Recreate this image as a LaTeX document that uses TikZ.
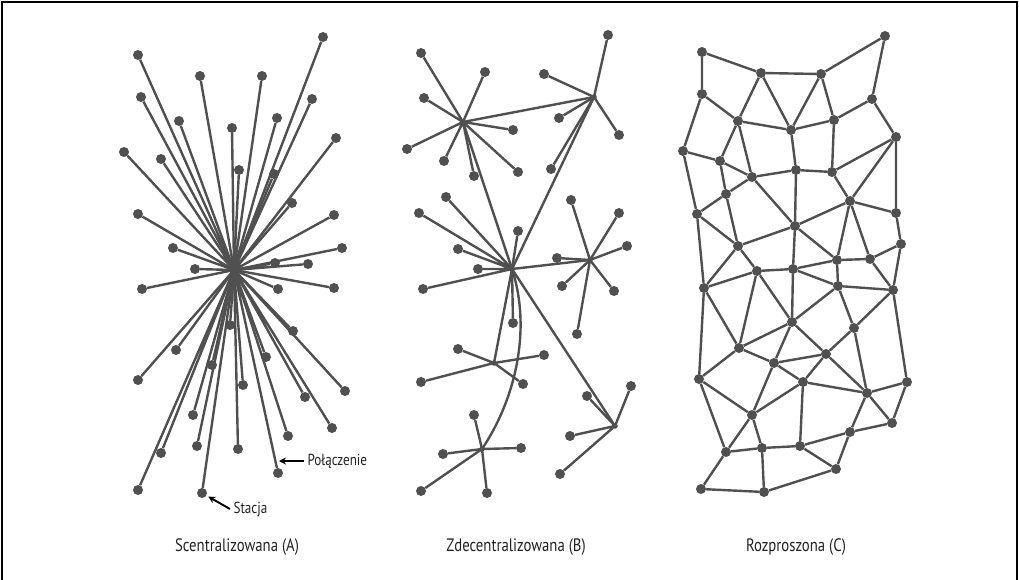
\documentclass[tikz,border=0pt]{standalone}
\usepackage{fontspec}
\setmainfont{PT Sans}[FakeStretch=0.82]
\usetikzlibrary{arrows.meta}
\definecolor{netgray}{RGB}{80,80,80}
\definecolor{labelgray}{RGB}{35,35,35}
\tikzset{
  station/.style={circle,fill=netgray,inner sep=0pt,minimum size=10pt},
  hubdot/.style={circle,fill=netgray,inner sep=0pt,minimum size=5.5pt},
  link/.style={draw=netgray,line width=2.4pt},
  caption/.style={text=labelgray,font=\fontsize{18}{20}\selectfont},
  tag/.style={text=labelgray,font=\fontsize{16}{18}\selectfont},
  pointer/.style={draw=black,line width=1.9pt,-{Stealth[length=7pt,width=7pt]}}
}
\begin{document}
\begin{tikzpicture}[x=1pt,y=-1pt]
\useasboundingbox (0,0) rectangle (1019,580);
\draw[line width=1.5pt] (2,580) -- (2,2) -- (1017,2) -- (1017,580);
%centralised (A)
\node[hubdot] (ha) at (234,270) {};
\node[station] (a1) at (323,37) {};
\node[station] (a2) at (138,55) {};
\node[station] (a3) at (200,76) {};
\node[station] (a4) at (262,76) {};
\node[station] (a5) at (141,97) {};
\node[station] (a6) at (312,99) {};
\node[station] (a7) at (179,121) {};
\node[station] (a8) at (277,118) {};
\node[station] (a9) at (232,128) {};
\node[station] (a10) at (336,138) {};
\node[station] (a11) at (124,152) {};
\node[station] (a12) at (161,159) {};
\node[station] (a13) at (239,170) {};
\node[station] (a14) at (274,174) {};
\node[station] (a15) at (292,203) {};
\node[station] (a16) at (138,214) {};
\node[station] (a17) at (334,215) {};
\node[station] (a18) at (173,248) {};
\node[station] (a19) at (342,248) {};
\node[station] (a20) at (195,269) {};
\node[station] (a21) at (275,263) {};
\node[station] (a22) at (308,264) {};
\node[station] (a23) at (142,289) {};
\node[station] (a24) at (278,289) {};
\node[station] (a25) at (334,288) {};
\node[station] (a26) at (293,331) {};
\node[station] (a27) at (230,325) {};
\node[station] (a28) at (176,350) {};
\node[station] (a29) at (266,357) {};
\node[station] (a30) at (212,365) {};
\node[station] (a31) at (138,380) {};
\node[station] (a32) at (243,385) {};
\node[station] (a33) at (345,391) {};
\node[station] (a34) at (305,397) {};
\node[station] (a35) at (193,415) {};
\node[station] (a36) at (332,428) {};
\node[station] (a37) at (288,436) {};
\node[station] (a38) at (197,446) {};
\node[station] (a39) at (238,449) {};
\node[station] (a40) at (161,453) {};
\node[station] (a41) at (278,473) {};
\node[station] (a42) at (138,490) {};
\node[station] (a43) at (202,493) {};
\draw[link] (ha.center) -- (a1) (ha.center) -- (a2) (ha.center) -- (a3) (ha.center) -- (a4) (ha.center) -- (a5) (ha.center) -- (a6);
\draw[link] (ha.center) -- (a7) (ha.center) -- (a8) (ha.center) -- (a9) (ha.center) -- (a10) (ha.center) -- (a11) (ha.center) -- (a12);
\draw[link] (ha.center) -- (a13) (ha.center) -- (a14) (ha.center) -- (a15) (ha.center) -- (a16) (ha.center) -- (a17) (ha.center) -- (a18);
\draw[link] (ha.center) -- (a19) (ha.center) -- (a20) (ha.center) -- (a21) (ha.center) -- (a22) (ha.center) -- (a23) (ha.center) -- (a24);
\draw[link] (ha.center) -- (a25) (ha.center) -- (a26) (ha.center) -- (a27) (ha.center) -- (a28) (ha.center) -- (a29) (ha.center) -- (a30);
\draw[link] (ha.center) -- (a31) (ha.center) -- (a32) (ha.center) -- (a33) (ha.center) -- (a34) (ha.center) -- (a35) (ha.center) -- (a36);
\draw[link] (ha.center) -- (a37) (ha.center) -- (a38) (ha.center) -- (a39) (ha.center) -- (a40) (ha.center) -- (a41) (ha.center) -- (a42);
\draw[link] (ha.center) -- (a43);
%labels
\node[tag,anchor=west] (conn) at (304,461) {Połączenie};
\coordinate (connpt) at (279,461);
\draw[pointer] (conn.west) -- (connpt);
\node[tag,anchor=west] (stat) at (230,509) {Stacja};
\draw[pointer,shorten >=2pt] (stat.west) -- (a43);
%decentralised (B)
\node[hubdot] (hb1) at (463,122) {};
\node[hubdot] (hb2) at (594,97) {};
\node[hubdot] (hb3) at (512,269) {};
\node[hubdot] (hb4) at (590,260) {};
\node[hubdot] (hb5) at (494,363) {};
\node[hubdot] (hb6) at (482,449) {};
\node[hubdot] (hb7) at (615,426) {};
\node[station] (b1) at (421,53) {};
\node[station] (b2) at (485,72) {};
\node[station] (b3) at (424,98) {};
\node[station] (b4) at (513,130) {};
\node[station] (b5) at (407,149) {};
\node[station] (b6) at (444,161) {};
\node[station] (b7) at (474,176) {};
\node[station] (b8) at (518,172) {};
\node[station] (b9) at (608,35) {};
\node[station] (b10) at (544,74) {};
\node[station] (b11) at (559,118) {};
\node[station] (b12) at (619,135) {};
\node[station] (b13) at (551,169) {};
\node[station] (b14) at (419,213) {};
\node[station] (b15) at (446,197) {};
\node[station] (b16) at (518,231) {};
\node[station] (b17) at (458,249) {};
\node[station] (b18) at (478,269) {};
\node[station] (b19) at (423,289) {};
\node[station] (b20) at (513,323) {};
\node[station] (b21) at (571,200) {};
\node[station] (b22) at (619,213) {};
\node[station] (b23) at (627,246) {};
\node[station] (b24) at (557,258) {};
\node[station] (b25) at (562,286) {};
\node[station] (b26) at (614,291) {};
\node[station] (b27) at (577,334) {};
\node[station] (b28) at (458,349) {};
\node[station] (b29) at (544,355) {};
\node[station] (b30) at (421,382) {};
\node[station] (b31) at (523,384) {};
\node[station] (b32) at (474,415) {};
\node[station] (b33) at (443,454) {};
\node[station] (b34) at (521,448) {};
\node[station] (b35) at (421,491) {};
\node[station] (b36) at (487,493) {};
\node[station] (b37) at (631,386) {};
\node[station] (b38) at (587,396) {};
\node[station] (b39) at (570,436) {};
\node[station] (b40) at (560,474) {};
\draw[link] (hb1.center) -- (b1) (hb1.center) -- (b2) (hb1.center) -- (b3) (hb1.center) -- (b4) (hb1.center) -- (b5) (hb1.center) -- (b6) (hb1.center) -- (b7) (hb1.center) -- (b8);
\draw[link] (hb2.center) -- (b9) (hb2.center) -- (b10) (hb2.center) -- (b11) (hb2.center) -- (b12) (hb2.center) -- (b13);
\draw[link] (hb3.center) -- (b14) (hb3.center) -- (b15) (hb3.center) -- (b16) (hb3.center) -- (b17) (hb3.center) -- (b18) (hb3.center) -- (b19) (hb3.center) -- (b20);
\draw[link] (hb4.center) -- (b21) (hb4.center) -- (b22) (hb4.center) -- (b23) (hb4.center) -- (b24) (hb4.center) -- (b25) (hb4.center) -- (b26) (hb4.center) -- (b27);
\draw[link] (hb5.center) -- (b28) (hb5.center) -- (b29) (hb5.center) -- (b30) (hb5.center) -- (b31);
\draw[link] (hb6.center) -- (b32) (hb6.center) -- (b33) (hb6.center) -- (b34) (hb6.center) -- (b35) (hb6.center) -- (b36);
\draw[link] (hb7.center) -- (b37) (hb7.center) -- (b38) (hb7.center) -- (b39) (hb7.center) -- (b40);
%links between hubs
\draw[link] (hb1.center) -- (hb2.center) (hb1.center) -- (hb3.center) (hb2.center) -- (hb3.center);
\draw[link] (hb3.center) -- (hb4.center) (hb3.center) -- (hb5.center) (hb3.center) -- (hb7.center);
\draw[link] (hb3.center) .. controls (532,330) and (515,400) .. (hb6.center);
%distributed (C)
\node[station] (c1) at (702,52) {};
\node[station] (c2) at (761,73) {};
\node[station] (c3) at (821,74) {};
\node[station] (c4) at (885,36) {};
\node[station] (c5) at (702,94) {};
\node[station] (c6) at (872,99) {};
\node[station] (c7) at (738,121) {};
\node[station] (c8) at (791,130) {};
\node[station] (c9) at (834,120) {};
\node[station] (c10) at (896,137) {};
\node[station] (c11) at (683,151) {};
\node[station] (c12) at (720,161) {};
\node[station] (c13) at (752,177) {};
\node[station] (c14) at (796,170) {};
\node[station] (c15) at (832,172) {};
\node[station] (c16) at (726,194) {};
\node[station] (c17) at (850,201) {};
\node[station] (c18) at (697,214) {};
\node[station] (c19) at (896,213) {};
\node[station] (c20) at (795,226) {};
\node[station] (c21) at (738,246) {};
\node[station] (c22) at (901,244) {};
\node[station] (c23) at (837,260) {};
\node[station] (c24) at (870,259) {};
\node[station] (c25) at (757,271) {};
\node[station] (c26) at (793,269) {};
\node[station] (c27) at (704,288) {};
\node[station] (c28) at (838,286) {};
\node[station] (c29) at (893,290) {};
\node[station] (c30) at (792,322) {};
\node[station] (c31) at (854,328) {};
\node[station] (c32) at (739,348) {};
\node[station] (c33) at (826,354) {};
\node[station] (c34) at (774,363) {};
\node[station] (c35) at (699,379) {};
\node[station] (c36) at (803,382) {};
\node[station] (c37) at (907,382) {};
\node[station] (c38) at (867,393) {};
\node[station] (c39) at (752,415) {};
\node[station] (c40) at (892,423) {};
\node[station] (c41) at (850,432) {};
\node[station] (c42) at (726,452) {};
\node[station] (c43) at (762,448) {};
\node[station] (c44) at (800,446) {};
\node[station] (c45) at (836,469) {};
\node[station] (c46) at (701,489) {};
\node[station] (c47) at (764,492) {};
\draw[link] (c5) -- (c1) -- (c2) -- (c3) -- (c4) -- (c6) -- (c10) -- (c19) -- (c22) -- (c29) -- (c37) -- (c40);
\draw[link] (c5) -- (c7) -- (c2) -- (c8) -- (c3) -- (c9) -- (c8) -- (c7) (c6) -- (c9);
\draw[link] (c5) -- (c11) -- (c12) -- (c7) -- (c13) -- (c12) (c8) -- (c14) -- (c13) (c9) -- (c15) -- (c14) (c10) -- (c15);
\draw[link] (c10) -- (c17) -- (c15) (c12) -- (c16) -- (c13) (c11) -- (c18) -- (c16) (c17) -- (c19);
\draw[link] (c13) -- (c20) -- (c14) (c17) -- (c20) (c16) -- (c21) -- (c18) (c20) -- (c21);
\draw[link] (c17) -- (c23) (c17) -- (c24) -- (c23) -- (c20) -- (c26) (c22) -- (c24);
\draw[link] (c18) -- (c27) -- (c21) -- (c25) -- (c27) (c25) -- (c26) -- (c23) -- (c28) -- (c26) (c24) -- (c29) -- (c28);
\draw[link] (c27) -- (c32) (c27) -- (c35) (c25) -- (c32) (c25) -- (c30) -- (c26) (c28) -- (c30) (c28) -- (c31) -- (c29);
\draw[link] (c30) -- (c32) (c30) -- (c34) (c30) -- (c33) -- (c31) -- (c38) (c32) -- (c34) -- (c33) (c32) -- (c35);
\draw[link] (c34) -- (c36) -- (c33) -- (c38) -- (c36) (c34) -- (c39) -- (c36) -- (c44) (c37) -- (c38) -- (c40) -- (c41) -- (c38);
\draw[link] (c35) -- (c39) -- (c42) -- (c35) (c39) -- (c43) -- (c42) -- (c46) -- (c47) -- (c43) -- (c44) -- (c41) -- (c45) -- (c44) (c47) -- (c45);
%captions
\node[caption] (capa) at (237,547) {Scentralizowana (A)};
\node[caption] (capb) at (516,547) {Zdecentralizowana (B)};
\node[caption] (capc) at (796,547) {Rozproszona (C)};
\end{tikzpicture}
\end{document}
